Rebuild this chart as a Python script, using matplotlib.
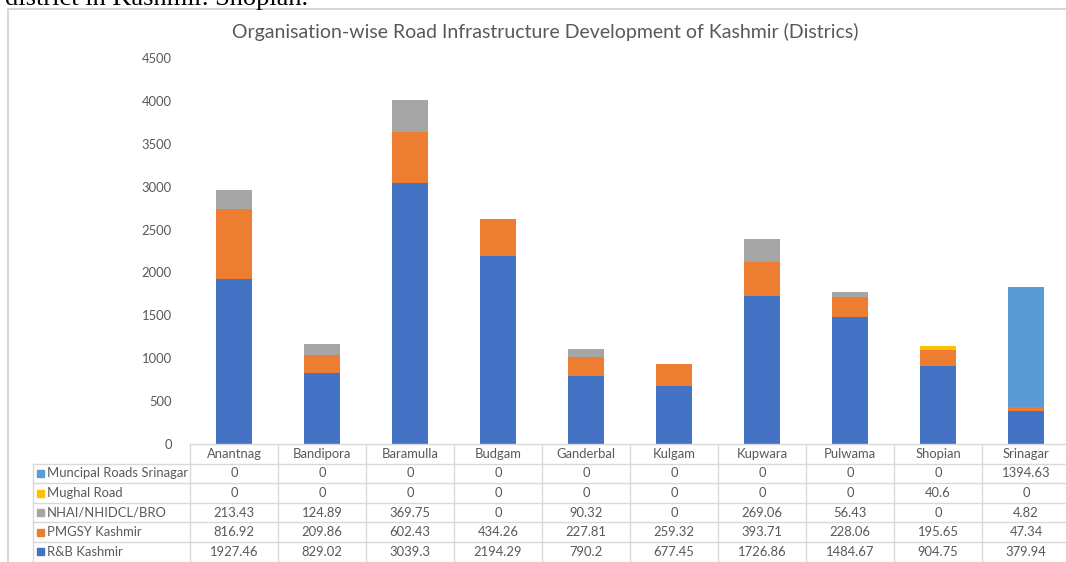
import matplotlib.pyplot as plt
from matplotlib.patches import Rectangle
from matplotlib.transforms import blended_transform_factory

districts = ["Anantnag", "Bandipora", "Baramulla", "Budgam", "Ganderbal",
             "Kulgam", "Kupwara", "Pulwama", "Shopian", "Srinagar"]

rnb_kashmir = [1927.46, 829.02, 3039.3, 2194.29, 790.2, 677.45, 1726.86, 1484.67, 904.75, 379.94]
pmgsy_kashmir = [816.92, 209.86, 602.43, 434.26, 227.81, 259.32, 393.71, 228.06, 195.65, 47.34]
nhai_bro = [213.43, 124.89, 369.75, 0, 90.32, 0, 269.06, 56.43, 0, 4.82]
mughal_road = [0, 0, 0, 0, 0, 0, 0, 0, 40.6, 0]
municipal_srinagar = [0, 0, 0, 0, 0, 0, 0, 0, 0, 1394.63]

# stacking order bottom -> top
series = [
    ("R&B Kashmir", rnb_kashmir, "#4472C4"),
    ("PMGSY Kashmir", pmgsy_kashmir, "#ED7D31"),
    ("NHAI/NHIDCL/BRO", nhai_bro, "#A5A5A5"),
    ("Mughal Road", mughal_road, "#FFC000"),
    ("Muncipal Roads Srinagar", municipal_srinagar, "#5B9BD5"),
]

W, H = 1066, 562
txt_color = "#595959"
grid_color = "#d9d9d9"
fs = 9.4
plt.rcParams["font.family"] = ["Lato", "DejaVu Sans"]

fig = plt.figure(figsize=(W / 100, H / 100), dpi=100)

# chart frame and the line of body text sitting just above it
fig.patches.append(Rectangle((8 / W, -0.05), 1.1, (H - 9) / H + 0.05,
                             transform=fig.transFigure, fill=False,
                             edgecolor="#d0d0d0", linewidth=1.2))
fig.text(5 / W, (H - 5) / H, "district in Kashmir. Shopian.", fontsize=19,
         family="Liberation Serif", color="black", va="baseline", ha="left")

fig.text(545 / W, (H - 32) / H,
         "Organisation-wise Road Infrastructure Development of Kashmir (Districs)",
         fontsize=14, color=txt_color, ha="center", va="center")

ax_l, ax_b, ax_w, ax_h = 190, 444, 880, 386
ax = fig.add_axes([ax_l / W, (H - ax_b) / H, ax_w / W, ax_h / H])

x = range(len(districts))
bottom = [0] * len(districts)
for name, vals, color in series:
    ax.bar(x, vals, width=0.4, bottom=bottom, color=color, linewidth=0)
    bottom = [b + v for b, v in zip(bottom, vals)]

ax.set_xlim(-0.5, len(districts) - 0.5)
ax.set_ylim(0, 4500)
ax.set_yticks(range(0, 4501, 500))
ax.tick_params(axis="y", length=0, pad=13, labelsize=fs, labelcolor=txt_color)
ax.set_xticks([])
for s in ax.spines.values():
    s.set_visible(False)

# data table under the bars
trans = blended_transform_factory(ax.transData, ax.transAxes)
row_h = 19.6 / ax_h
label_left = -0.5 - (ax_l - 33) / (ax_w / len(districts))
n_rows = len(series)
line_kw = dict(color=grid_color, linewidth=1, transform=trans, clip_on=False)

# horizontal lines
ax.plot([-0.5, len(districts) - 0.5], [0, 0], **line_kw)
for r in range(1, n_rows + 2):
    y = -r * row_h
    ax.plot([label_left, len(districts) - 0.5], [y, y], **line_kw)
# vertical lines
for c in range(len(districts) + 1):
    ax.plot([c - 0.5, c - 0.5], [0, -(n_rows + 1) * row_h], **line_kw)
ax.plot([label_left, label_left], [-row_h, -(n_rows + 1) * row_h], **line_kw)

for i, d in enumerate(districts):
    ax.text(i, -0.5 * row_h, d, transform=trans, ha="center", va="center",
            fontsize=fs, color=txt_color)

for r, (name, vals, color) in enumerate(reversed(series)):
    yc = -(r + 1.5) * row_h
    ax.add_patch(Rectangle((label_left + 0.04, yc - 3.5 / ax_h), 0.09, 7 / ax_h,
                           transform=trans, color=color, clip_on=False))
    ax.text(label_left + 0.16, yc, name, transform=trans, ha="left", va="center",
            fontsize=fs, color=txt_color)
    for i, v in enumerate(vals):
        ax.text(i, yc, f"{v:g}", transform=trans, ha="center", va="center",
                fontsize=fs, color=txt_color)

fig.savefig("out.png", dpi=100)
